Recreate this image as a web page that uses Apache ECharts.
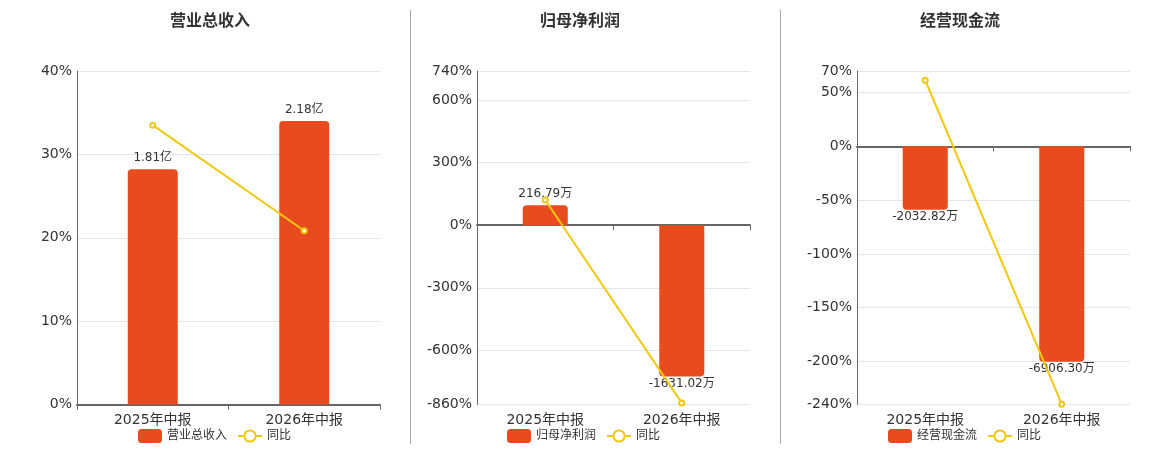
<!DOCTYPE html>
<html>
<head>
<meta charset="utf-8">
<script src="https://cdn.jsdelivr.net/npm/echarts@6/dist/echarts.min.js"></script>
<style>
html,body{margin:0;padding:0;background:#fff;}
#main{width:1160px;height:450px;}
</style>
</head>
<body>
<div id="main"></div>
<script>
// ---- data ----
const categories = ['2025年中报', '2026年中报'];
const titles = ['营业总收入', '归母净利润', '经营现金流'];
const units = ['亿', '万', '万'];
const revenue = [1.81, 2.18];          // 亿
const revenueYoY = [33.5, 20.84];      // %
const netProfit = [216.79, -1631.02];  // 万
const netProfitYoY = [121, -852.36];   // %
const cashFlow = [-2032.82, -6906.30]; // 万
const cashFlowYoY = [61.4, -239.74];   // %
const pctTicks1 = [0, 10, 20, 30, 40];
const pctTicks2 = [-860, -600, -300, 0, 300, 600, 740];
const pctTicks3 = [-240, -200, -150, -100, -50, 0, 50, 70];

const barValues = [revenue, netProfit, cashFlow];
const yoyValues = [revenueYoY, netProfitYoY, cashFlowYoY];
const pctTicks = [pctTicks1, pctTicks2, pctTicks3];
// hidden value-axis extents for the bars (zero aligned with the % axis)
const barExtents = [[0, 2.565], [-1932, 1662.4], [-8273, 2412.9]];

// ---- layout ----
const gridLefts = [77, 477, 857];
const gridWidths = [303, 273, 273];
const centers = [210, 580, 960];
const legendLefts = [133, 502, 883];

const BAR_COLOR = '#e84c1e';
const LINE_COLOR = '#f2c80f';
const AXIS_COLOR = '#666';
const TEXT_COLOR = '#333';
const FONT = "'DejaVu Sans', 'Noto Sans CJK SC', sans-serif";

const option = {
  animation: false,
  textStyle: {fontFamily: FONT},
  title: [], grid: [], xAxis: [], yAxis: [], series: [], legend: [],
  graphic: [
    {type: 'line', shape: {x1: 410.5, y1: 10, x2: 410.5, y2: 444}, style: {stroke: '#aaa', lineWidth: 1}, silent: true},
    {type: 'line', shape: {x1: 780.5, y1: 10, x2: 780.5, y2: 444}, style: {stroke: '#aaa', lineWidth: 1}, silent: true}
  ]
};

for (let i = 0; i < 3; i++) {
  const ticks = pctTicks[i];
  option.title.push({
    text: titles[i], left: centers[i], top: 14, padding: 0, textAlign: 'center',
    textStyle: {fontSize: 16, fontWeight: 'bold', color: TEXT_COLOR, fontFamily: FONT}
  });
  option.grid.push({left: gridLefts[i], top: 71, width: gridWidths[i], height: 333.5});
  // axis line + ticks at zero
  option.xAxis.push({
    gridIndex: i, type: 'category', data: categories, position: 'bottom',
    axisLine: {show: true, onZero: true, lineStyle: {color: AXIS_COLOR, width: 2}},
    axisTick: {show: true, length: 5, lineStyle: {color: AXIS_COLOR}},
    axisLabel: {show: false}, splitLine: {show: false}
  });
  // labels at bottom
  option.xAxis.push({
    gridIndex: i, type: 'category', data: categories, position: 'bottom',
    axisLine: {show: false, onZero: false}, axisTick: {show: false},
    axisLabel: {show: true, fontSize: 14, color: TEXT_COLOR, margin: 9, fontFamily: FONT},
    splitLine: {show: false}
  });
  option.yAxis.push({
    gridIndex: i, type: 'value', position: 'left',
    min: ticks[0], max: ticks[ticks.length - 1],
    axisLine: {show: true, lineStyle: {color: AXIS_COLOR, width: 1}},
    axisTick: {show: false, customValues: ticks},
    axisLabel: {formatter: '{value}%', fontSize: 14, color: TEXT_COLOR, margin: 5, customValues: ticks, fontFamily: FONT},
    splitLine: {show: true, lineStyle: {color: '#e0e6f1'}}
  });
  option.yAxis.push({
    gridIndex: i, type: 'value', show: false,
    min: barExtents[i][0], max: barExtents[i][1],
    splitLine: {show: false}
  });
  const unit = units[i];
  option.series.push({
    name: titles[i], type: 'bar', xAxisIndex: 2 * i, yAxisIndex: 2 * i + 1,
    barWidth: '33%',
    itemStyle: {color: BAR_COLOR},
    label: {show: true, color: TEXT_COLOR, fontSize: 12, fontFamily: FONT,
      formatter: p => p.value.toFixed(2) + unit},
    data: barValues[i].map(v => ({
      value: v,
      itemStyle: {borderRadius: v >= 0 ? [4, 4, 0, 0] : [0, 0, 4, 4]},
      label: {position: v >= 0 ? 'top' : 'bottom', distance: v >= 0 ? 5 : 1}
    })),
    z: 2
  });
  option.series.push({
    name: '同比', type: 'line', xAxisIndex: 2 * i, yAxisIndex: 2 * i,
    data: yoyValues[i], symbol: 'emptyCircle', symbolSize: 5,
    lineStyle: {color: LINE_COLOR, width: 2},
    itemStyle: {color: LINE_COLOR, borderWidth: 1.5},
    z: 3
  });
  option.legend.push({
    data: [titles[i], '同比'], left: legendLefts[i], top: 424,
    itemWidth: 24, itemHeight: 14, itemGap: 10,
    textStyle: {fontSize: 12, color: TEXT_COLOR, fontFamily: FONT}
  });
}

const chart = echarts.init(document.getElementById('main'));
chart.setOption(option);
</script>
</body>
</html>
